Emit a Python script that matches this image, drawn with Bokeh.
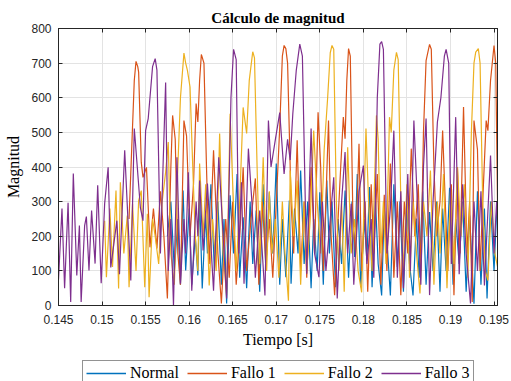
from bokeh.plotting import figure
from bokeh.layouts import column
from bokeh.models import (Range1d, FixedTicker, LinearAxis, Legend, LegendItem,
                          CustomJSTickFormatter)
from bokeh.embed import file_html
from bokeh.resources import INLINE

# ---------------- data ----------------
t_normal = [0.1575, 0.1579, 0.1583, 0.1587, 0.1590, 0.1593, 0.1596, 0.1600, 0.1603, 0.1607,
            0.1610, 0.1612, 0.1615, 0.1619, 0.1621, 0.1625, 0.1629, 0.1633, 0.1637, 0.1640,
            0.1643, 0.1647, 0.1651, 0.1655, 0.1658, 0.1662, 0.1666, 0.1670, 0.1673, 0.1677,
            0.1681, 0.1685, 0.1688, 0.1692, 0.1696, 0.1700, 0.1704, 0.1707, 0.1711, 0.1715,
            0.1717, 0.1721, 0.1725, 0.1728, 0.1732, 0.1736, 0.1740, 0.1743, 0.1747, 0.1750,
            0.1754, 0.1758, 0.1761, 0.1764, 0.1768, 0.1771, 0.1775, 0.1779, 0.1783, 0.1787,
            0.1790, 0.1793, 0.1797, 0.1801, 0.1804, 0.1807, 0.1810, 0.1814, 0.1817, 0.1821,
            0.1824, 0.1828, 0.1831, 0.1835, 0.1839, 0.1842, 0.1846, 0.1850, 0.1853, 0.1857,
            0.1861, 0.1864, 0.1868, 0.1872, 0.1876, 0.1880, 0.1884, 0.1888, 0.1891, 0.1895,
            0.1899, 0.1903, 0.1906, 0.1910, 0.1914, 0.1918, 0.1922, 0.1927, 0.1931, 0.1935,
            0.1939, 0.1942, 0.1946, 0.1950, 0.1953, 0.1955]
v_normal = [200, 300, 100, 250, 60, 332, 101, 280, 60, 200,
            87, 318, 49, 265, 150, 350, 100, 300, 60, 250,
            6, 318, 150, 380, 80, 255, 50, 300, 120, 274,
            40, 350, 100, 327, 150, 410, 60, 250, 82, 303,
            63, 280, 150, 390, 120, 300, 50, 250, 100, 327,
            60, 361, 150, 300, 53, 250, 120, 332, 80, 300,
            140, 380, 53, 250, 130, 342, 53, 300, 120, 29,
            280, 150, 29, 350, 111, 300, 40, 290, 120, 29,
            251, 80, 330, 60, 270, 100, 300, 40, 280, 100,
            340, 60, 250, 120, 300, 40, 260, 5, 330, 60,
            280, 20, 300, 100, 270, 250]

t_fallo1 = [0.1531, 0.1534, 0.1537, 0.1539, 0.1541, 0.1542, 0.1545, 0.1547, 0.1551, 0.1555,
            0.1559, 0.1563, 0.1567, 0.1571, 0.1575, 0.1579, 0.1581, 0.1584, 0.1587, 0.1590,
            0.1594, 0.1597, 0.1601, 0.1605, 0.1608, 0.1610, 0.1612, 0.1614, 0.1617, 0.1620,
            0.1623, 0.1628, 0.1633, 0.1637, 0.1642, 0.1646, 0.1650, 0.1654, 0.1658, 0.1662,
            0.1666, 0.1671, 0.1676, 0.1680, 0.1684, 0.1688, 0.1692, 0.1696, 0.1701, 0.1704,
            0.1707, 0.1709, 0.1711, 0.1713, 0.1717, 0.1720, 0.1724, 0.1728, 0.1732, 0.1735,
            0.1740, 0.1744, 0.1748, 0.1751, 0.1754, 0.1757, 0.1760, 0.1763, 0.1767, 0.1771,
            0.1774, 0.1777, 0.1779, 0.1781, 0.1783, 0.1785, 0.1788, 0.1791, 0.1795, 0.1798,
            0.1802, 0.1805, 0.1809, 0.1812, 0.1816, 0.1820, 0.1824, 0.1827, 0.1831, 0.1835,
            0.1839, 0.1843, 0.1847, 0.1851, 0.1855, 0.1859, 0.1863, 0.1866, 0.1869, 0.1872,
            0.1876, 0.1878, 0.1881, 0.1884, 0.1888, 0.1891, 0.1894, 0.1897, 0.1901, 0.1904,
            0.1908, 0.1911, 0.1915, 0.1919, 0.1922, 0.1925, 0.1927, 0.1931, 0.1934, 0.1937,
            0.1941, 0.1943, 0.1946, 0.1950, 0.1952, 0.1955]
v_fallo1 = [250, 450, 650, 705, 690, 674, 414, 370, 399, 168,
            280, 165, 330, 200, 20, 400, 549, 480, 150, 60,
            534, 490, 200, 350, 583, 530, 650, 725, 700, 390,
            120, 448, 150, 6, 250, 80, 300, 60, 200, 399,
            100, 250, 367, 60, 300, 120, 250, 80, 350, 515,
            720, 751, 742, 700, 300, 150, 477, 100, 300, 80,
            400, 150, 558, 400, 100, 300, 534, 200, 30, 250,
            400, 544, 482, 650, 742, 720, 250, 150, 467, 100,
            300, 40, 350, 150, 380, 60, 320, 100, 410, 80,
            300, 30, 300, 150, 453, 200, 350, 100, 500, 707,
            754, 740, 400, 200, 300, 505, 300, 100, 350, 30,
            400, 150, 573, 150, 300, 10, 534, 450, 100, 300,
            534, 505, 650, 751, 700, 100]

t_fallo2 = [0.1503, 0.1505, 0.1509, 0.1512, 0.1516, 0.1519, 0.1521, 0.1525, 0.1529, 0.1531,
            0.1535, 0.1539, 0.1542, 0.1545, 0.1549, 0.1552, 0.1554, 0.1558, 0.1561, 0.1565,
            0.1569, 0.1573, 0.1576, 0.1579, 0.1583, 0.1587, 0.1590, 0.1594, 0.1596, 0.1598,
            0.1601, 0.1604, 0.1607, 0.1610, 0.1612, 0.1616, 0.1619, 0.1623, 0.1627, 0.1631,
            0.1635, 0.1639, 0.1643, 0.1647, 0.1650, 0.1654, 0.1658, 0.1662, 0.1666, 0.1669,
            0.1673, 0.1675, 0.1678, 0.1681, 0.1685, 0.1689, 0.1692, 0.1695, 0.1699, 0.1703,
            0.1707, 0.1710, 0.1714, 0.1716, 0.1720, 0.1724, 0.1728, 0.1732, 0.1735, 0.1739,
            0.1743, 0.1747, 0.1751, 0.1755, 0.1759, 0.1762, 0.1764, 0.1766, 0.1769, 0.1772,
            0.1775, 0.1778, 0.1782, 0.1786, 0.1790, 0.1794, 0.1798, 0.1803, 0.1806, 0.1810,
            0.1815, 0.1817, 0.1820, 0.1823, 0.1826, 0.1830, 0.1832, 0.1835, 0.1838, 0.1840,
            0.1843, 0.1846, 0.1850, 0.1853, 0.1857, 0.1861, 0.1865, 0.1869, 0.1873, 0.1877,
            0.1881, 0.1885, 0.1888, 0.1892, 0.1896, 0.1900, 0.1904, 0.1908, 0.1912, 0.1916,
            0.1920, 0.1924, 0.1927, 0.1929, 0.1932, 0.1934, 0.1937, 0.1940, 0.1943, 0.1947,
            0.1951, 0.1955]
v_fallo2 = [245, 82, 280, 111, 332, 49, 356, 150, 260, 53,
            294, 100, 303, 332, 53, 265, 24, 250, 200, 120,
            300, 385, 472, 150, 60, 400, 600, 729, 700, 679,
            631, 410, 200, 100, 410, 200, 350, 58, 250, 100,
            497, 150, 30, 554, 350, 100, 300, 572, 497, 650,
            733, 715, 400, 120, 428, 100, 330, 150, 250, 80,
            300, 150, 14, 390, 200, 361, 60, 300, 100, 250,
            505, 300, 150, 450, 600, 730, 751, 740, 300, 100,
            300, 40, 457, 150, 250, 100, 38, 511, 300, 100,
            549, 480, 150, 300, 120, 544, 500, 680, 731, 710,
            300, 100, 350, 80, 300, 150, 35, 300, 200, 390,
            60, 300, 150, 380, 50, 330, 120, 400, 200, 350,
            80, 500, 700, 732, 742, 700, 300, 100, 72, 300,
            150, 100]

t_fallo3 = [0.1450, 0.1454, 0.1457, 0.1461, 0.1464, 0.1467, 0.1471, 0.1474, 0.1476, 0.1480,
            0.1482, 0.1485, 0.1488, 0.1492, 0.1495, 0.1499, 0.1503, 0.1507, 0.1510, 0.1517,
            0.1520, 0.1526, 0.1533, 0.1537, 0.1538, 0.1544, 0.1547, 0.1550, 0.1553, 0.1558,
            0.1561, 0.1563, 0.1567, 0.1570, 0.1573, 0.1576, 0.1579, 0.1582, 0.1586, 0.1590,
            0.1594, 0.1596, 0.1599, 0.1603, 0.1608, 0.1610, 0.1612, 0.1616, 0.1621, 0.1628,
            0.1634, 0.1643, 0.1648, 0.1651, 0.1654, 0.1657, 0.1660, 0.1663, 0.1668, 0.1672,
            0.1676, 0.1681, 0.1687, 0.1691, 0.1694, 0.1699, 0.1704, 0.1709, 0.1713, 0.1716,
            0.1719, 0.1723, 0.1727, 0.1730, 0.1735, 0.1740, 0.1744, 0.1749, 0.1753, 0.1757,
            0.1762, 0.1766, 0.1770, 0.1775, 0.1779, 0.1782, 0.1786, 0.1789, 0.1795, 0.1800,
            0.1804, 0.1809, 0.1812, 0.1816, 0.1819, 0.1821, 0.1823, 0.1827, 0.1831, 0.1835,
            0.1839, 0.1843, 0.1846, 0.1851, 0.1854, 0.1858, 0.1862, 0.1866, 0.1869, 0.1872,
            0.1876, 0.1880, 0.1885, 0.1889, 0.1893, 0.1895, 0.1898, 0.1901, 0.1906, 0.1910,
            0.1914, 0.1918, 0.1923, 0.1927, 0.1931, 0.1935, 0.1939, 0.1946, 0.1950, 0.1953,
            0.1955]
v_fallo3 = [75, 280, 50, 297, 10, 381, 87, 231, 10, 231,
            257, 101, 274, 121, 347, 64, 295, 399, 110, 245,
            90, 448, 72, 511, 480, 283, 245, 505, 540, 690,
            713, 680, 150, 400, 644, 100, 250, 0, 428, 63,
            250, 150, 385, 43, 300, 200, 361, 159, 352, 43,
            428, 20, 600, 740, 710, 150, 356, 63, 453, 300,
            80, 274, 29, 534, 400, 480, 557, 380, 480, 420,
            554, 680, 755, 720, 92, 511, 150, 82, 300, 100,
            250, 370, 20, 300, 443, 150, 294, 60, 330, 404,
            120, 250, 80, 600, 755, 762, 740, 150, 280, 505,
            80, 330, 50, 380, 100, 534, 300, 60, 400, 540,
            30, 300, 530, 600, 720, 740, 700, 120, 544, 90,
            350, 150, 6, 300, 100, 330, 58, 433, 150, 300,
            200]

series_names = ["Normal", "Fallo 1", "Fallo 2", "Fallo 3"]
x_ticks = [0.145, 0.15, 0.155, 0.16, 0.165, 0.17, 0.175, 0.18, 0.185, 0.19, 0.195]
x_tick_labels = ["0.145", "0.15", "0.155", "0.16", "0.165", "0.17", "0.175",
                 "0.18", "0.185", "0.19", "0.195"]
y_ticks = [0, 100, 200, 300, 400, 500, 600, 700, 800]

# ---------------- styling ----------------
colors = ["#0072BD", "#D95319", "#EDB120", "#7E2F8E"]
AX = "#262626"
SANS = "Liberation Sans"
SERIF = "Liberation Serif"

p = figure(width=511, height=359, output_backend="svg", toolbar_location=None,
           x_range=Range1d(0.145, 0.1954), y_range=Range1d(0, 800),
           min_border_left=58, min_border_right=14, min_border_top=28,
           min_border_bottom=54, title="Cálculo de magnitud")
p.background_fill_color = "white"
p.border_fill_color = "white"
p.outline_line_color = AX
p.outline_line_width = 1

p.title.text_font = SERIF
p.title.text_font_size = "15px"
p.title.text_font_style = "bold"
p.title.text_color = "#000000"
p.title.align = "center"
p.title.standoff = 5

xt = FixedTicker(ticks=x_ticks)
yt = FixedTicker(ticks=y_ticks)

for ax in p.xaxis:
    ax.ticker = xt
    ax.major_label_overrides = {k: s for k, s in zip(x_ticks, x_tick_labels)}
    ax.axis_label = "Tiempo [s]"
    ax.axis_label_standoff = 4
for ax in p.yaxis:
    ax.ticker = yt
    ax.axis_label = "Magnitud"
    ax.axis_label_standoff = 6

for ax in list(p.xaxis) + list(p.yaxis):
    ax.major_tick_in = 4
    ax.major_tick_out = 0
    ax.minor_tick_in = 0
    ax.minor_tick_out = 0
    ax.axis_line_color = AX
    ax.major_tick_line_color = AX
    ax.major_label_text_font = SANS
    ax.major_label_text_font_size = "12px"
    ax.major_label_text_color = AX
    ax.axis_label_text_font = SERIF
    ax.axis_label_text_font_size = "16px"
    ax.axis_label_text_font_style = "normal"
    ax.axis_label_text_color = "#000000"
p.xaxis.major_label_standoff = 9
p.yaxis.major_label_standoff = 7

blank = CustomJSTickFormatter(code="return '';")
top_ax = LinearAxis(ticker=xt, formatter=blank,
                    major_tick_in=4, major_tick_out=0, minor_tick_in=0, minor_tick_out=0,
                    axis_line_color=AX, major_tick_line_color=AX, major_label_standoff=0)
right_ax = LinearAxis(ticker=yt, formatter=blank,
                      major_tick_in=4, major_tick_out=0, minor_tick_in=0, minor_tick_out=0,
                      axis_line_color=AX, major_tick_line_color=AX, major_label_standoff=0)
p.add_layout(top_ax, "above")
p.add_layout(right_ax, "right")

p.xgrid.grid_line_color = "#e3e3e3"
p.ygrid.grid_line_color = "#e3e3e3"
p.xgrid.ticker = xt
p.ygrid.ticker = yt

data = [(t_normal, v_normal), (t_fallo1, v_fallo1), (t_fallo2, v_fallo2), (t_fallo3, v_fallo3)]
for (tt, vv), c in zip(data, colors):
    p.line(tt, vv, line_color=c, line_width=1.2)

# ---------------- legend strip below the chart ----------------
lg = figure(width=511, height=22, output_backend="svg", toolbar_location=None,
            x_range=Range1d(0, 1), y_range=Range1d(0, 1),
            min_border_left=0, min_border_right=0, min_border_top=0, min_border_bottom=0)
lg.axis.visible = False
lg.grid.visible = False
lg.outline_line_color = None
lg.background_fill_color = "white"
lg.border_fill_color = "white"
# proxy renderers lie outside the strip's ranges; they only feed the legend swatches
proxies = [lg.line([2, 3], [2, 3], line_color=c, line_width=1.5) for c in colors]

legend = Legend(items=[LegendItem(label=n, renderers=[r]) for n, r in zip(series_names, proxies)],
                orientation="horizontal", location=(24, -5))
legend.label_text_font = SERIF
legend.label_text_font_size = "16px"
legend.label_text_color = "#000000"
legend.label_height = 16
legend.glyph_width = 40
legend.glyph_height = 16
legend.label_standoff = 4
legend.spacing = 8
legend.padding = 3
legend.margin = 0
legend.border_line_color = AX
legend.border_line_width = 1
legend.background_fill_color = "white"
legend.background_fill_alpha = 1
lg.add_layout(legend, "center")

layout = column(p, lg, spacing=0)
open("out.html", "w").write(file_html(layout, INLINE))
